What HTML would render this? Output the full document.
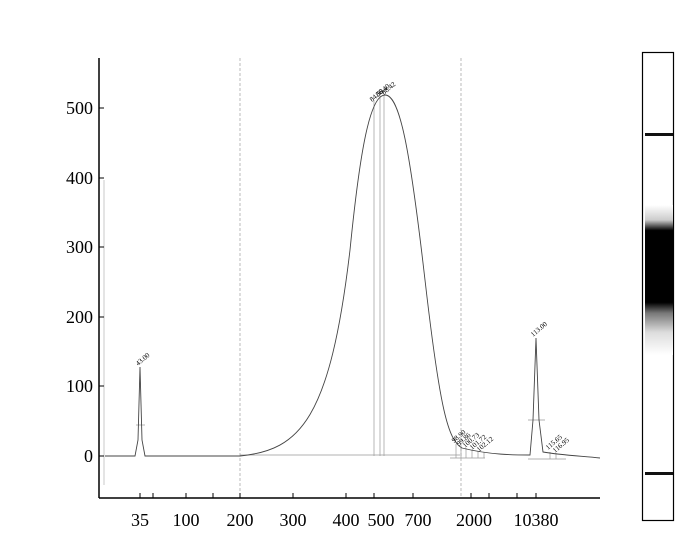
<!DOCTYPE html>
<html><head><meta charset="utf-8"><style>
body{margin:0;background:#fff}
svg{display:block}
text{font-family:"Liberation Serif",serif}
</style></head><body>
<svg width="700" height="534" viewBox="0 0 700 534" xmlns="http://www.w3.org/2000/svg">
<defs>
<linearGradient id="g" x1="0" y1="0" x2="0" y2="1">
<stop offset="0" stop-color="#fff"/>
<stop offset="0.1" stop-color="#ccc"/>
<stop offset="0.17" stop-color="#000"/>
<stop offset="0.65" stop-color="#000"/>
<stop offset="0.72" stop-color="#777"/>
<stop offset="0.85" stop-color="#ddd"/>
<stop offset="1" stop-color="#fff"/>
</linearGradient>
</defs>
<!-- grid dashed -->
<line x1="240" y1="58" x2="240" y2="498" stroke="#aaa" stroke-width="0.8" stroke-dasharray="3,2"/>
<line x1="461" y1="58" x2="461" y2="498" stroke="#aaa" stroke-width="0.8" stroke-dasharray="3,2"/>
<line x1="104" y1="180" x2="104" y2="485" stroke="#bbb" stroke-width="0.8"/>
<!-- axes -->
<line x1="99" y1="58" x2="99" y2="498" stroke="#000" stroke-width="1.5"/>
<line x1="99" y1="498" x2="600" y2="498" stroke="#000" stroke-width="1.5"/>
<g stroke="#000" stroke-width="1">
<line x1="99" y1="108" x2="104" y2="108"/><line x1="99" y1="178" x2="104" y2="178"/>
<line x1="99" y1="247" x2="104" y2="247"/><line x1="99" y1="317" x2="104" y2="317"/>
<line x1="99" y1="386" x2="104" y2="386"/><line x1="99" y1="456" x2="104" y2="456"/>
<line x1="140" y1="493" x2="140" y2="498"/><line x1="153" y1="493" x2="153" y2="498"/>
<line x1="186" y1="493" x2="186" y2="498"/><line x1="213" y1="493" x2="213" y2="498"/>
<line x1="240" y1="493" x2="240" y2="498"/><line x1="293" y1="493" x2="293" y2="498"/>
<line x1="346" y1="493" x2="346" y2="498"/><line x1="374" y1="493" x2="374" y2="498"/>
<line x1="413" y1="493" x2="413" y2="498"/><line x1="471" y1="493" x2="471" y2="498"/>
<line x1="489" y1="493" x2="489" y2="498"/><line x1="517" y1="493" x2="517" y2="498"/>
<line x1="536" y1="493" x2="536" y2="498"/>
</g>
<g font-size="18" text-anchor="end">
<text x="93" y="114">500</text><text x="93" y="184">400</text><text x="93" y="253">300</text>
<text x="93" y="323">200</text><text x="93" y="392">100</text><text x="93" y="462">0</text>
</g>
<g font-size="18" text-anchor="middle">
<text x="140" y="526">35</text><text x="186" y="526">100</text><text x="240" y="526">200</text>
<text x="293" y="526">300</text><text x="346" y="526">400</text><text x="381" y="526">500</text>
<text x="418" y="526">700</text><text x="474" y="526">2000</text><text x="536" y="526">10380</text>
</g>
<!-- baseline fills -->
<g stroke="#999" stroke-width="0.7" fill="none">
<line x1="240" y1="455" x2="460" y2="455"/>
<line x1="450" y1="458" x2="485" y2="458"/>
<line x1="528" y1="459" x2="566" y2="459"/>
<line x1="374" y1="100" x2="374" y2="456"/>
<line x1="380" y1="96" x2="380" y2="456"/>
<line x1="384" y1="95" x2="384" y2="456"/>
<line x1="456" y1="444" x2="456" y2="458"/><line x1="461" y1="446" x2="461" y2="458"/>
<line x1="466" y1="448" x2="466" y2="458"/><line x1="472" y1="450" x2="472" y2="458"/>
<line x1="478" y1="451" x2="478" y2="458"/><line x1="484" y1="452" x2="484" y2="458"/>
<line x1="550" y1="452" x2="550" y2="459"/><line x1="556" y1="453" x2="556" y2="459"/>
<line x1="528" y1="420" x2="545" y2="420"/><line x1="136" y1="425" x2="145" y2="425"/>
</g>
<!-- curve -->
<path d="M105,456 L135,456 L138,440 L140,367 L142,440 L145,456 L240,456 C300,450 330,420 350,250 C360,150 370,95 385,95 C400,95 410,150 425,280 C440,410 448,440 462,448 C490,455 515,455 530,455 L533,420 L536,338 L539,420 L543,452 C560,455 580,456 600,458" fill="none" stroke="#444" stroke-width="0.9"/>
<!-- labels -->
<g font-family="Liberation Sans,sans-serif" font-size="7" fill="#000">
<text transform="translate(138,366) rotate(-40)">43.00</text>
<text transform="translate(533,337) rotate(-40)">113.00</text>
<text transform="translate(372,102) rotate(-40)">84.58</text>
<text transform="translate(378,97) rotate(-40)">86.40</text>
<text transform="translate(384,95) rotate(-40)">88.42</text>
<text transform="translate(454,443) rotate(-40)">98.90</text>
<text transform="translate(459,446) rotate(-40)">99.86</text>
<text transform="translate(465,448) rotate(-40)">100.73</text>
<text transform="translate(472,450) rotate(-40)">101.72</text>
<text transform="translate(479,452) rotate(-40)">102.12</text>
<text transform="translate(548,450) rotate(-40)">115.65</text>
<text transform="translate(555,453) rotate(-40)">116.95</text>
</g>
<!-- gel lane -->
<rect x="642.5" y="52.5" width="31" height="468" fill="#fff" stroke="#000" stroke-width="1.2"/>
<rect x="645" y="205" width="28" height="150" fill="url(#g)"/>
<rect x="645" y="133" width="28" height="3" fill="#111"/>
<rect x="645" y="472" width="28" height="3" fill="#111"/>
</svg>
</body></html>
